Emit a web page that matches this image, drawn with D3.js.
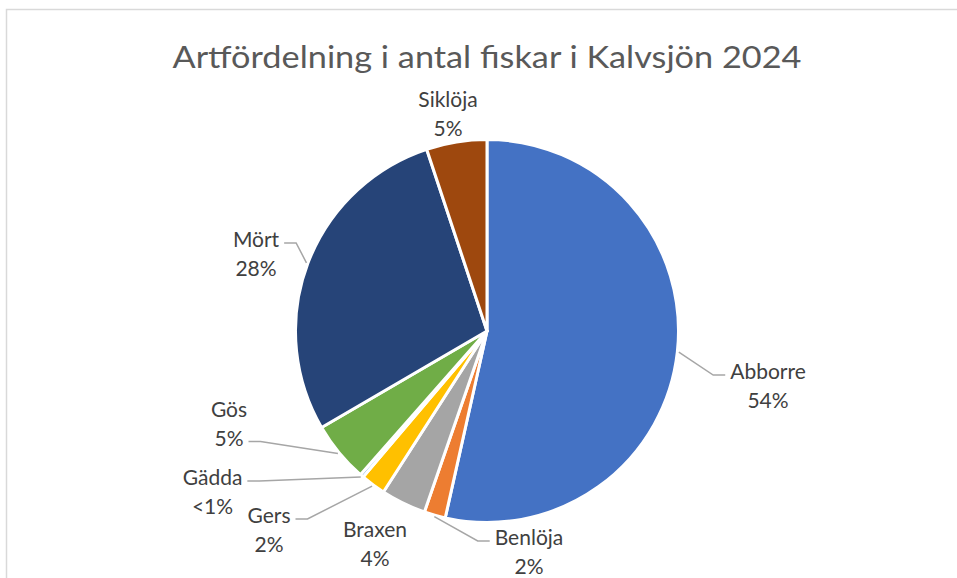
<!DOCTYPE html>
<html>
<head>
<meta charset="utf-8">
<script src="https://cdn.jsdelivr.net/npm/d3@7"></script>
<style>
  html, body { margin: 0; padding: 0; background: #fff; }
  svg { display: block; }
</style>
</head>
<body>
<svg id="chart" width="957" height="578"></svg>
<script>
// ---- data ----
const title = "Artfördelning i antal fiskar i Kalvsjön 2024";
const species = ["Abborre", "Benlöja", "Braxen", "Gers", "Gädda", "Gös", "Mört", "Siklöja"];
const shares = [53.5, 1.8, 3.8, 2.1, 0.3, 5.1, 28.3, 5.1];
const colors = ["#4472C4", "#ED7D31", "#A5A5A5", "#FFC000", "#5B9BD5", "#70AD47", "#264478", "#9E480E"];

// ---- layout (label anchor relative to pie centre: text centre x, first baseline y) ----
const labelLayout = [
  { dx: 281, dy: 48, leader: true, attach: 0 },
  { dx: 42, dy: 214, leader: true, attach: 0 },
  { dx: -112, dy: 206, leader: false },
  { dx: -218, dy: 192, leader: true, attach: 0 },
  { dx: -274.5, dy: 154, leader: true, attach: 0 },
  { dx: -258, dy: 86, leader: true, attach: 1 },
  { dx: -231, dy: -84, leader: true, attach: 0 },
  { dx: -39, dy: -224, leader: false }
];

const W = 957, H = 578;
const cx = 487, cy = 331, R = 191.5;
const lineH = 28.5;

const svg = d3.select("#chart");

// frame
svg.append("rect")
  .attr("x", 6.5).attr("y", 9.5)
  .attr("width", 1000).attr("height", 1000)
  .attr("fill", "#fff")
  .attr("stroke", "#d9d9d9").attr("stroke-width", 1.5);

// title
const t = svg.append("text")
  .attr("x", cx).attr("y", 68)
  .attr("text-anchor", "middle")
  .attr("font-family", "Lato, 'Open Sans', sans-serif")
  .attr("font-size", 30)
  .attr("fill", "#595959")
  .text(title);
const tw = t.node().getComputedTextLength();
if (Math.abs(tw - 629) > 4) {
  t.attr("textLength", 629).attr("lengthAdjust", "spacingAndGlyphs");
}

const data = species.map((s, i) => ({ name: s, value: shares[i], color: colors[i], layout: labelLayout[i] }));

const pie = d3.pie().sort(null).value(d => d.value);
const arcs = pie(data);
const arc = d3.arc().innerRadius(0).outerRadius(R);

const g = svg.append("g").attr("transform", `translate(${cx},${cy})`);

g.selectAll("path.slice")
  .data(arcs)
  .join("path")
  .attr("class", "slice")
  .attr("d", arc)
  .attr("fill", d => d.data.color)
  .attr("stroke", "#fff")
  .attr("stroke-width", 3)
  .attr("stroke-linejoin", "round");

const fmt = v => v < 1 ? "<1%" : Math.round(v) + "%";
const fontFam = "Lato, 'Open Sans', sans-serif";
const fontSize = 21;

const labels = g.selectAll("g.lbl")
  .data(arcs)
  .join("g")
  .attr("class", "lbl");

labels.each(function (d) {
  const L = d.data.layout;
  const sel = d3.select(this);
  const txt = sel.append("text")
    .attr("text-anchor", "middle")
    .attr("font-family", fontFam)
    .attr("font-size", fontSize)
    .attr("fill", "#404040");
  const lines = [d.data.name, fmt(d.data.value)];
  const tspans = lines.map((ln, k) => txt.append("tspan")
    .attr("x", L.dx)
    .attr("y", L.dy + k * lineH)
    .text(ln));

  if (L.leader) {
    const mid = (d.startAngle + d.endAngle) / 2;
    const sx = Math.sin(mid) * (R + 1.5);
    const sy = -Math.cos(mid) * (R + 1.5);
    const lineW = tspans[L.attach].node().getComputedTextLength();
    const ly = L.dy + L.attach * lineH - 4;
    const rightSide = L.dx > sx;
    const ex = rightSide ? L.dx - lineW / 2 - 5 : L.dx + lineW / 2 + 5;
    const bx = rightSide ? ex - 12 : ex + 12;
    sel.insert("path", "text")
      .attr("d", d3.line()([[sx, sy], [bx, ly], [ex, ly]]))
      .attr("fill", "none")
      .attr("stroke", "#a6a6a6")
      .attr("stroke-width", 1.5);
  }
});
</script>
</body>
</html>
